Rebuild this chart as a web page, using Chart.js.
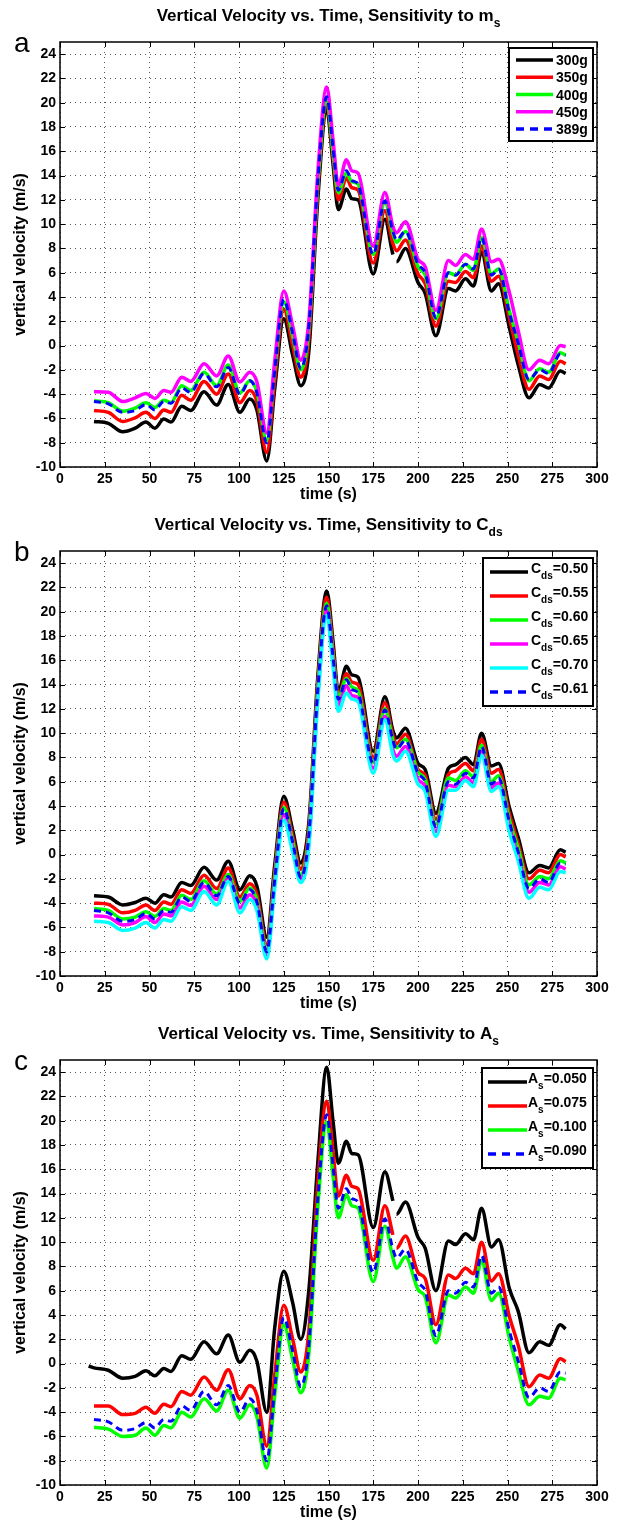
<!DOCTYPE html>
<html>
<head>
<meta charset="utf-8">
<script src="https://cdn.jsdelivr.net/npm/chart.js@4/dist/chart.umd.min.js"></script>
<style>
  body { margin: 0; background: #fff; }
  .panel { position: absolute; left: 0; width: 623px; }
</style>
</head>
<body>
<div class="panel" style="top:0;height:509px"><canvas id="chartA" width="623" height="509"></canvas></div>
<div class="panel" style="top:509px;height:509px"><canvas id="chartB" width="623" height="509"></canvas></div>
<div class="panel" style="top:1018px;height:506px"><canvas id="chartC" width="623" height="506"></canvas></div>
<script>
// sample times (s)
const time = [16, 19, 27, 35, 42, 48, 53, 58, 62, 68, 73, 80.5, 87.5, 94, 100.5, 106, 110, 115.5, 120, 125,
  130, 134.5, 139, 144, 149, 152.5, 155.5, 160, 163, 166.5, 175, 181.5, 186, 188, 193, 200, 204, 210, 217, 221,
  226.5, 231, 235.5, 241, 245, 251, 256, 262, 268, 273, 279.5, 282.5];

// nominal case: m = 389 g, Cds = 0.61, As = 0.090
const nominal = [null, -4.6, -4.8, -5.5, -5.35, -4.85, -5.3, -4.6, -4.75, -3.5, -3.85, -2.3, -3.4, -1.8, -4.0, -2.9, -3.9, -8.0, -2.0, 3.8,
  1.0, -1.9, 1.5, 13.5, 20.5, 16.3, 12.8, 14.4, 13.6, 13.3, 7.5, 11.9, 9.4, 8.7, 9.4, 6.7, 6.0, 2.3, 6.0, 5.8,
  6.7, 6.3, 8.9, 5.8, 6.3, 2.7, 0.2, -2.8, -2.0, -2.3, -0.7, -0.8];

// sensitivity to sonde mass
const mass300 = [null, -6.25, -6.4, -7.1, -6.8, -6.3, -6.8, -6.05, -6.3, -5.0, -5.35, -3.8, -4.9, -3.2, -5.5, -4.4, -5.3, -9.5, -3.5, 2.2,
  -0.8, -3.3, -0.5, 12.0, 19.4, 15.0, 11.2, 12.9, 12.1, 12.0, 5.9, 10.4, 7.5, 6.9, 8.0, 5.2, 4.3, 0.8, 4.7, 4.5,
  5.5, 4.9, 7.7, 4.5, 5.1, 1.5, -1.6, -4.3, -3.2, -3.5, -2.1, -2.3];
const mass350 = [null, -5.35, -5.5, -6.25, -5.95, -5.5, -6.0, -5.3, -5.5, -4.1, -4.5, -2.95, -4.0, -2.35, -4.7, -3.7, -4.6, -8.8, -2.8, 3.0,
  0.0, -2.6, 0.5, 12.8, 19.9, 15.6, 12.0, 13.8, 13.0, 12.8, 6.8, 11.1, 8.4, 7.8, 8.7, 5.9, 5.1, 1.6, 5.3, 5.2,
  6.1, 5.6, 8.2, 5.3, 5.7, 2.3, -0.8, -3.6, -2.5, -2.8, -1.3, -1.5];
const mass400 = [null, -4.55, -4.7, -5.4, -5.15, -4.7, -5.1, -4.5, -4.7, -3.3, -3.7, -2.2, -3.3, -1.6, -3.9, -2.9, -3.8, -7.8, -1.9, 3.6,
  0.8, -2.0, 1.3, 13.3, 20.3, 16.0, 12.6, 14.2, 13.5, 13.3, 7.5, 11.8, 9.2, 8.5, 9.4, 6.5, 5.8, 2.2, 6.0, 5.8,
  6.7, 6.2, 8.9, 5.9, 6.3, 2.9, 0.3, -2.9, -1.9, -2.2, -0.6, -0.8];
const mass450 = [null, -3.8, -3.85, -4.6, -4.3, -3.95, -4.35, -3.7, -3.85, -2.6, -2.95, -1.5, -2.5, -0.85, -3.0, -2.2, -3.0, -7.2, -1.2, 4.5,
  1.6, -1.2, 2.0, 14.2, 21.3, 17.0, 13.2, 15.3, 14.4, 14.2, 8.2, 12.6, 9.8, 9.3, 10.2, 7.1, 6.5, 2.9, 7.0, 6.6,
  7.5, 7.1, 9.6, 6.9, 7.1, 4.4, 1.2, -2.0, -1.2, -1.5, 0.0, -0.1];

// sensitivity to drag coefficient
const cd050 = [null, -3.4, -3.5, -4.15, -3.95, -3.6, -4.0, -3.3, -3.5, -2.3, -2.55, -1.05, -2.1, -0.55, -2.9, -1.75, -2.6, -6.8, -0.8, 4.8,
  2.0, -0.7, 2.6, 14.6, 21.7, 17.6, 13.4, 15.5, 14.8, 14.6, 8.5, 13.0, 10.2, 9.6, 10.4, 7.5, 7.0, 3.4, 7.1, 7.4,
  8.0, 7.4, 10.0, 7.3, 7.5, 3.9, 1.4, -1.5, -0.9, -1.1, 0.4, 0.2];
const cd055 = [null, -4.0, -4.1, -4.8, -4.6, -4.15, -4.6, -3.9, -4.1, -2.9, -3.2, -1.7, -2.8, -1.1, -3.5, -2.4, -3.3, -7.4, -1.4, 4.3,
  1.5, -1.2, 2.0, 14.0, 21.2, 17.0, 13.0, 14.9, 14.2, 14.0, 8.0, 12.5, 9.8, 9.1, 9.9, 7.0, 6.5, 2.9, 6.6, 6.9,
  7.5, 6.9, 9.5, 6.7, 7.0, 3.4, 0.9, -2.0, -1.3, -1.5, 0.0, -0.2];
const cd060 = [null, -4.45, -4.6, -5.3, -5.15, -4.7, -5.1, -4.45, -4.6, -3.35, -3.7, -2.15, -3.25, -1.65, -3.85, -2.75, -3.75, -7.8, -1.8, 3.9,
  1.1, -1.7, 1.6, 13.6, 20.7, 16.5, 12.9, 14.5, 13.8, 13.5, 7.6, 12.0, 9.4, 8.8, 9.5, 6.8, 6.2, 2.5, 6.3, 6.1,
  6.9, 6.4, 9.0, 6.0, 6.5, 2.9, 0.5, -2.5, -1.8, -2.0, -0.5, -0.7];
const cd065 = [null, -5.05, -5.15, -5.8, -5.6, -5.1, -5.6, -4.9, -5.05, -3.9, -4.2, -2.6, -3.7, -2.0, -4.4, -3.3, -4.2, -8.3, -2.3, 3.3,
  0.6, -2.0, 1.0, 13.0, 20.1, 16.0, 12.3, 13.9, 13.1, 12.9, 7.1, 11.4, 8.6, 8.1, 8.9, 6.2, 5.6, 1.9, 5.7, 5.6,
  6.4, 5.9, 8.5, 5.5, 5.9, 2.3, -0.1, -3.1, -2.3, -2.5, -1.0, -1.2];
const cd070 = [null, -5.5, -5.6, -6.25, -6.05, -5.6, -6.05, -5.35, -5.5, -4.3, -4.6, -3.05, -4.15, -2.2, -4.8, -3.7, -4.6, -8.6, -2.7, 2.85,
  0.2, -2.3, 0.6, 12.6, 19.7, 15.5, 11.8, 13.3, 12.8, 12.6, 6.7, 11.1, 8.2, 7.7, 8.5, 5.8, 5.2, 1.5, 5.3, 5.3,
  6.1, 5.6, 8.2, 5.2, 5.6, 1.9, -0.5, -3.6, -2.7, -2.9, -1.4, -1.5];

// sensitivity to cross-section area
const as050 = [-0.2, -0.35, -0.55, -1.2, -1.05, -0.6, -1.0, -0.4, -0.65, 0.65, 0.35, 1.8, 0.8, 2.35, 0.1, 1.1, 0.2, -4.0, 3.0, 7.6,
  5.0, 2.0, 6.0, 16.5, 24.4, 20.0, 16.5, 18.3, 17.3, 17.2, 11.2, 15.8, 13.4, 12.3, 13.3, 10.4, 9.5, 6.0, 10.1, 9.8,
  10.7, 10.2, 12.8, 9.6, 10.2, 6.2, 4.3, 0.9, 1.8, 1.5, 3.2, 2.85];
const as075 = [null, -3.5, -3.5, -4.2, -4.1, -3.6, -4.1, -3.35, -3.55, -2.3, -2.6, -1.1, -2.2, -0.5, -2.9, -1.8, -2.6, -6.8, -0.9, 4.8,
  2.0, -0.7, 2.6, 14.8, 21.6, 17.5, 13.8, 15.5, 14.6, 14.4, 8.5, 13.0, 10.6, 9.5, 10.5, 7.5, 7.0, 3.2, 7.3, 7.0,
  7.85, 7.4, 10.0, 6.8, 7.4, 3.9, 1.5, -1.9, -0.95, -1.2, 0.4, 0.15];
const as100 = [null, -5.25, -5.4, -6.0, -5.9, -5.3, -5.9, -5.1, -5.3, -4.0, -4.4, -2.9, -3.9, -2.2, -4.5, -3.4, -4.4, -8.6, -2.6, 3.2,
  0.3, -2.4, 0.8, 12.8, 19.9, 15.5, 12.0, 13.9, 13.0, 12.8, 6.75, 11.3, 8.7, 7.85, 8.8, 6.1, 5.5, 1.7, 5.65, 5.4,
  6.3, 5.8, 8.5, 5.2, 5.8, 2.1, -0.6, -3.4, -2.7, -2.85, -1.2, -1.35];

const xTicks = [0, 25, 50, 75, 100, 125, 150, 175, 200, 225, 250, 275, 300];
const yTicks = [-10, -8, -6, -4, -2, 0, 2, 4, 6, 8, 10, 12, 14, 16, 18, 20, 22, 24];

const FONT = "'Liberation Sans', Arial, Helvetica, sans-serif";

const panels = [
  {
    id: 'chartA', letter: 'a', height: 509,
    title: ['Vertical Velocity vs. Time, Sensitivity to m', 's'],
    legend: { left: 509, right: 593, top: 48, bottom: 141, firstRow: 60, rowStep: 17.25,
              lineFrom: 516, lineTo: 553, textX: 556, textDy: 5 },
    series: [
      { label: ['300g', '', ''], values: mass300, color: '#000000', breakAt: 186 },
      { label: ['350g', '', ''], values: mass350, color: '#ff0000' },
      { label: ['400g', '', ''], values: mass400, color: '#00ff00' },
      { label: ['450g', '', ''], values: mass450, color: '#ff00ff' },
      { label: ['389g', '', ''], values: nominal, color: '#0000ff', dashed: true }
    ]
  },
  {
    id: 'chartB', letter: 'b', height: 509,
    title: ['Vertical Velocity vs. Time, Sensitivity to C', 'ds'],
    legend: { left: 483, right: 593, top: 49, bottom: 197, firstRow: 63, rowStep: 24,
              lineFrom: 490, lineTo: 528, textX: 531, textDy: 1 },
    series: [
      { label: ['C', 'ds', '=0.50'], values: cd050, color: '#000000' },
      { label: ['C', 'ds', '=0.55'], values: cd055, color: '#ff0000' },
      { label: ['C', 'ds', '=0.60'], values: cd060, color: '#00ff00' },
      { label: ['C', 'ds', '=0.65'], values: cd065, color: '#ff00ff' },
      { label: ['C', 'ds', '=0.70'], values: cd070, color: '#00ffff' },
      { label: ['C', 'ds', '=0.61'], values: nominal, color: '#0000ff', dashed: true }
    ]
  },
  {
    id: 'chartC', letter: 'c', height: 506,
    title: ['Vertical Velocity vs. Time, Sensitivity to A', 's'],
    legend: { left: 482, right: 593, top: 50, bottom: 150, firstRow: 64, rowStep: 24,
              lineFrom: 488, lineTo: 527, textX: 528, textDy: 1 },
    series: [
      { label: ['A', 's', '=0.050'], values: as050, color: '#000000', breakAt: 186 },
      { label: ['A', 's', '=0.075'], values: as075, color: '#ff0000', breakAt: 186 },
      { label: ['A', 's', '=0.100'], values: as100, color: '#00ff00' },
      { label: ['A', 's', '=0.090'], values: nominal, color: '#0000ff', dashed: true }
    ]
  }
];

// draws text with an optional subscript, returns the width used
function drawSubText(ctx, x, y, parts, size, subSize, subDrop) {
  ctx.font = 'bold ' + size + 'px ' + FONT;
  ctx.fillText(parts[0], x, y);
  let w = ctx.measureText(parts[0]).width;
  if (parts[1]) {
    ctx.font = 'bold ' + subSize + 'px ' + FONT;
    ctx.fillText(parts[1], x + w, y + subDrop);
    w += ctx.measureText(parts[1]).width;
  }
  if (parts[2]) {
    ctx.font = 'bold ' + size + 'px ' + FONT;
    ctx.fillText(parts[2], x + w, y);
    w += ctx.measureText(parts[2]).width;
  }
  return w;
}

function measureSubText(ctx, parts, size, subSize) {
  ctx.font = 'bold ' + size + 'px ' + FONT;
  let w = ctx.measureText(parts[0]).width;
  if (parts[1]) {
    ctx.font = 'bold ' + subSize + 'px ' + FONT;
    w += ctx.measureText(parts[1]).width;
  }
  return w;
}

// box, inward ticks, titles and legend in the matlab style
const frame = {
  id: 'frame',
  beforeDatasetsDraw(chart, args, panel) {
    const { ctx, chartArea: a, scales } = chart;
    ctx.save();
    ctx.strokeStyle = '#000';
    ctx.lineWidth = 1.5;
    ctx.strokeRect(a.left, a.top, a.right - a.left, a.bottom - a.top);
    ctx.lineWidth = 1;
    ctx.beginPath();
    xTicks.forEach(v => {
      const px = Math.round(scales.x.getPixelForValue(v)) + 0.5;
      ctx.moveTo(px, a.bottom); ctx.lineTo(px, a.bottom - 5);
      ctx.moveTo(px, a.top); ctx.lineTo(px, a.top + 5);
    });
    yTicks.forEach(v => {
      const py = Math.round(scales.y.getPixelForValue(v)) + 0.5;
      ctx.moveTo(a.left, py); ctx.lineTo(a.left + 5, py);
      ctx.moveTo(a.right, py); ctx.lineTo(a.right - 5, py);
    });
    ctx.stroke();
    ctx.restore();
  },
  afterDraw(chart, args, panel) {
    const { ctx, chartArea: a } = chart;
    const cx = (a.left + a.right) / 2;
    ctx.save();
    ctx.fillStyle = '#000';
    ctx.textBaseline = 'alphabetic';
    ctx.textAlign = 'left';

    // title
    const tw = measureSubText(ctx, panel.title, 17, 12);
    drawSubText(ctx, cx - tw / 2, 21, panel.title, 17, 12, 6);

    // panel letter
    ctx.font = '28px ' + FONT;
    ctx.fillText(panel.letter, 14, 52);

    // axis titles
    ctx.font = 'bold 16px ' + FONT;
    ctx.textAlign = 'center';
    ctx.fillText('time (s)', cx, a.bottom + 32);
    ctx.save();
    ctx.translate(25, (a.top + a.bottom) / 2);
    ctx.rotate(-Math.PI / 2);
    ctx.fillText('vertical velocity (m/s)', 0, 0);
    ctx.restore();

    // legend
    const lg = panel.legend;
    ctx.fillStyle = '#fff';
    ctx.fillRect(lg.left, lg.top, lg.right - lg.left, lg.bottom - lg.top);
    ctx.strokeStyle = '#000';
    ctx.lineWidth = 2;
    ctx.strokeRect(lg.left, lg.top, lg.right - lg.left, lg.bottom - lg.top);
    ctx.textAlign = 'left';
    panel.series.forEach((s, i) => {
      const ry = lg.firstRow + i * lg.rowStep;
      ctx.beginPath();
      ctx.strokeStyle = s.color;
      ctx.lineWidth = 3.5;
      ctx.setLineDash(s.dashed ? [8, 6] : []);
      ctx.moveTo(lg.lineFrom, ry);
      ctx.lineTo(lg.lineTo, ry);
      ctx.stroke();
      ctx.setLineDash([]);
      ctx.fillStyle = '#000';
      drawSubText(ctx, lg.textX, ry + lg.textDy, s.label, 14, 10, 6);
    });
    ctx.restore();
  }
};

function makeChart(panel) {
  const n = panel.series.length;
  return new Chart(document.getElementById(panel.id), {
    type: 'line',
    data: {
      datasets: panel.series.map((s, i) => ({
        label: s.label.join(''),
        data: time.map((t, k) => ({ x: t, y: s.values[k] })),
        borderColor: s.color,
        borderWidth: s.dashed ? 3 : 3.5,
        borderDash: s.dashed ? [7, 5] : [],
        pointRadius: 0,
        cubicInterpolationMode: 'monotone',
        spanGaps: true,
        fill: false,
        order: n - i,
        // short break in the record after t = 186 s
        segment: {
          borderColor: c => (s.breakAt !== undefined && c.p0.parsed.x === s.breakAt) ? 'rgba(0,0,0,0)' : undefined
        }
      }))
    },
    options: {
      responsive: false,
      animation: false,
      events: [],
      layout: { padding: { left: 0, right: 26, top: 42, bottom: 0 } },
      plugins: { legend: { display: false }, tooltip: { enabled: false }, frame: panel },
      scales: {
        x: {
          type: 'linear', min: 0, max: 300,
          afterFit(s) { s.height = panel.height - 467; },
          afterBuildTicks(s) { s.ticks = xTicks.map(v => ({ value: v })); },
          ticks: { color: '#000', padding: 4, maxRotation: 0, autoSkip: false,
                   font: { family: FONT, size: 14, weight: 'bold' } },
          grid: { color: '#555', lineWidth: 1, drawTicks: false },
          border: { display: false, dash: [1, 4] }
        },
        y: {
          type: 'linear', min: -10, max: 25,
          afterFit(s) { s.width = 60; },
          afterBuildTicks(s) { s.ticks = yTicks.map(v => ({ value: v })); },
          ticks: { color: '#000', padding: 4, autoSkip: false,
                   font: { family: FONT, size: 14, weight: 'bold' } },
          grid: { color: '#555', lineWidth: 1, drawTicks: false },
          border: { display: false, dash: [1, 4] }
        }
      }
    },
    plugins: [frame]
  });
}

panels.forEach(makeChart);
</script>
</body>
</html>
